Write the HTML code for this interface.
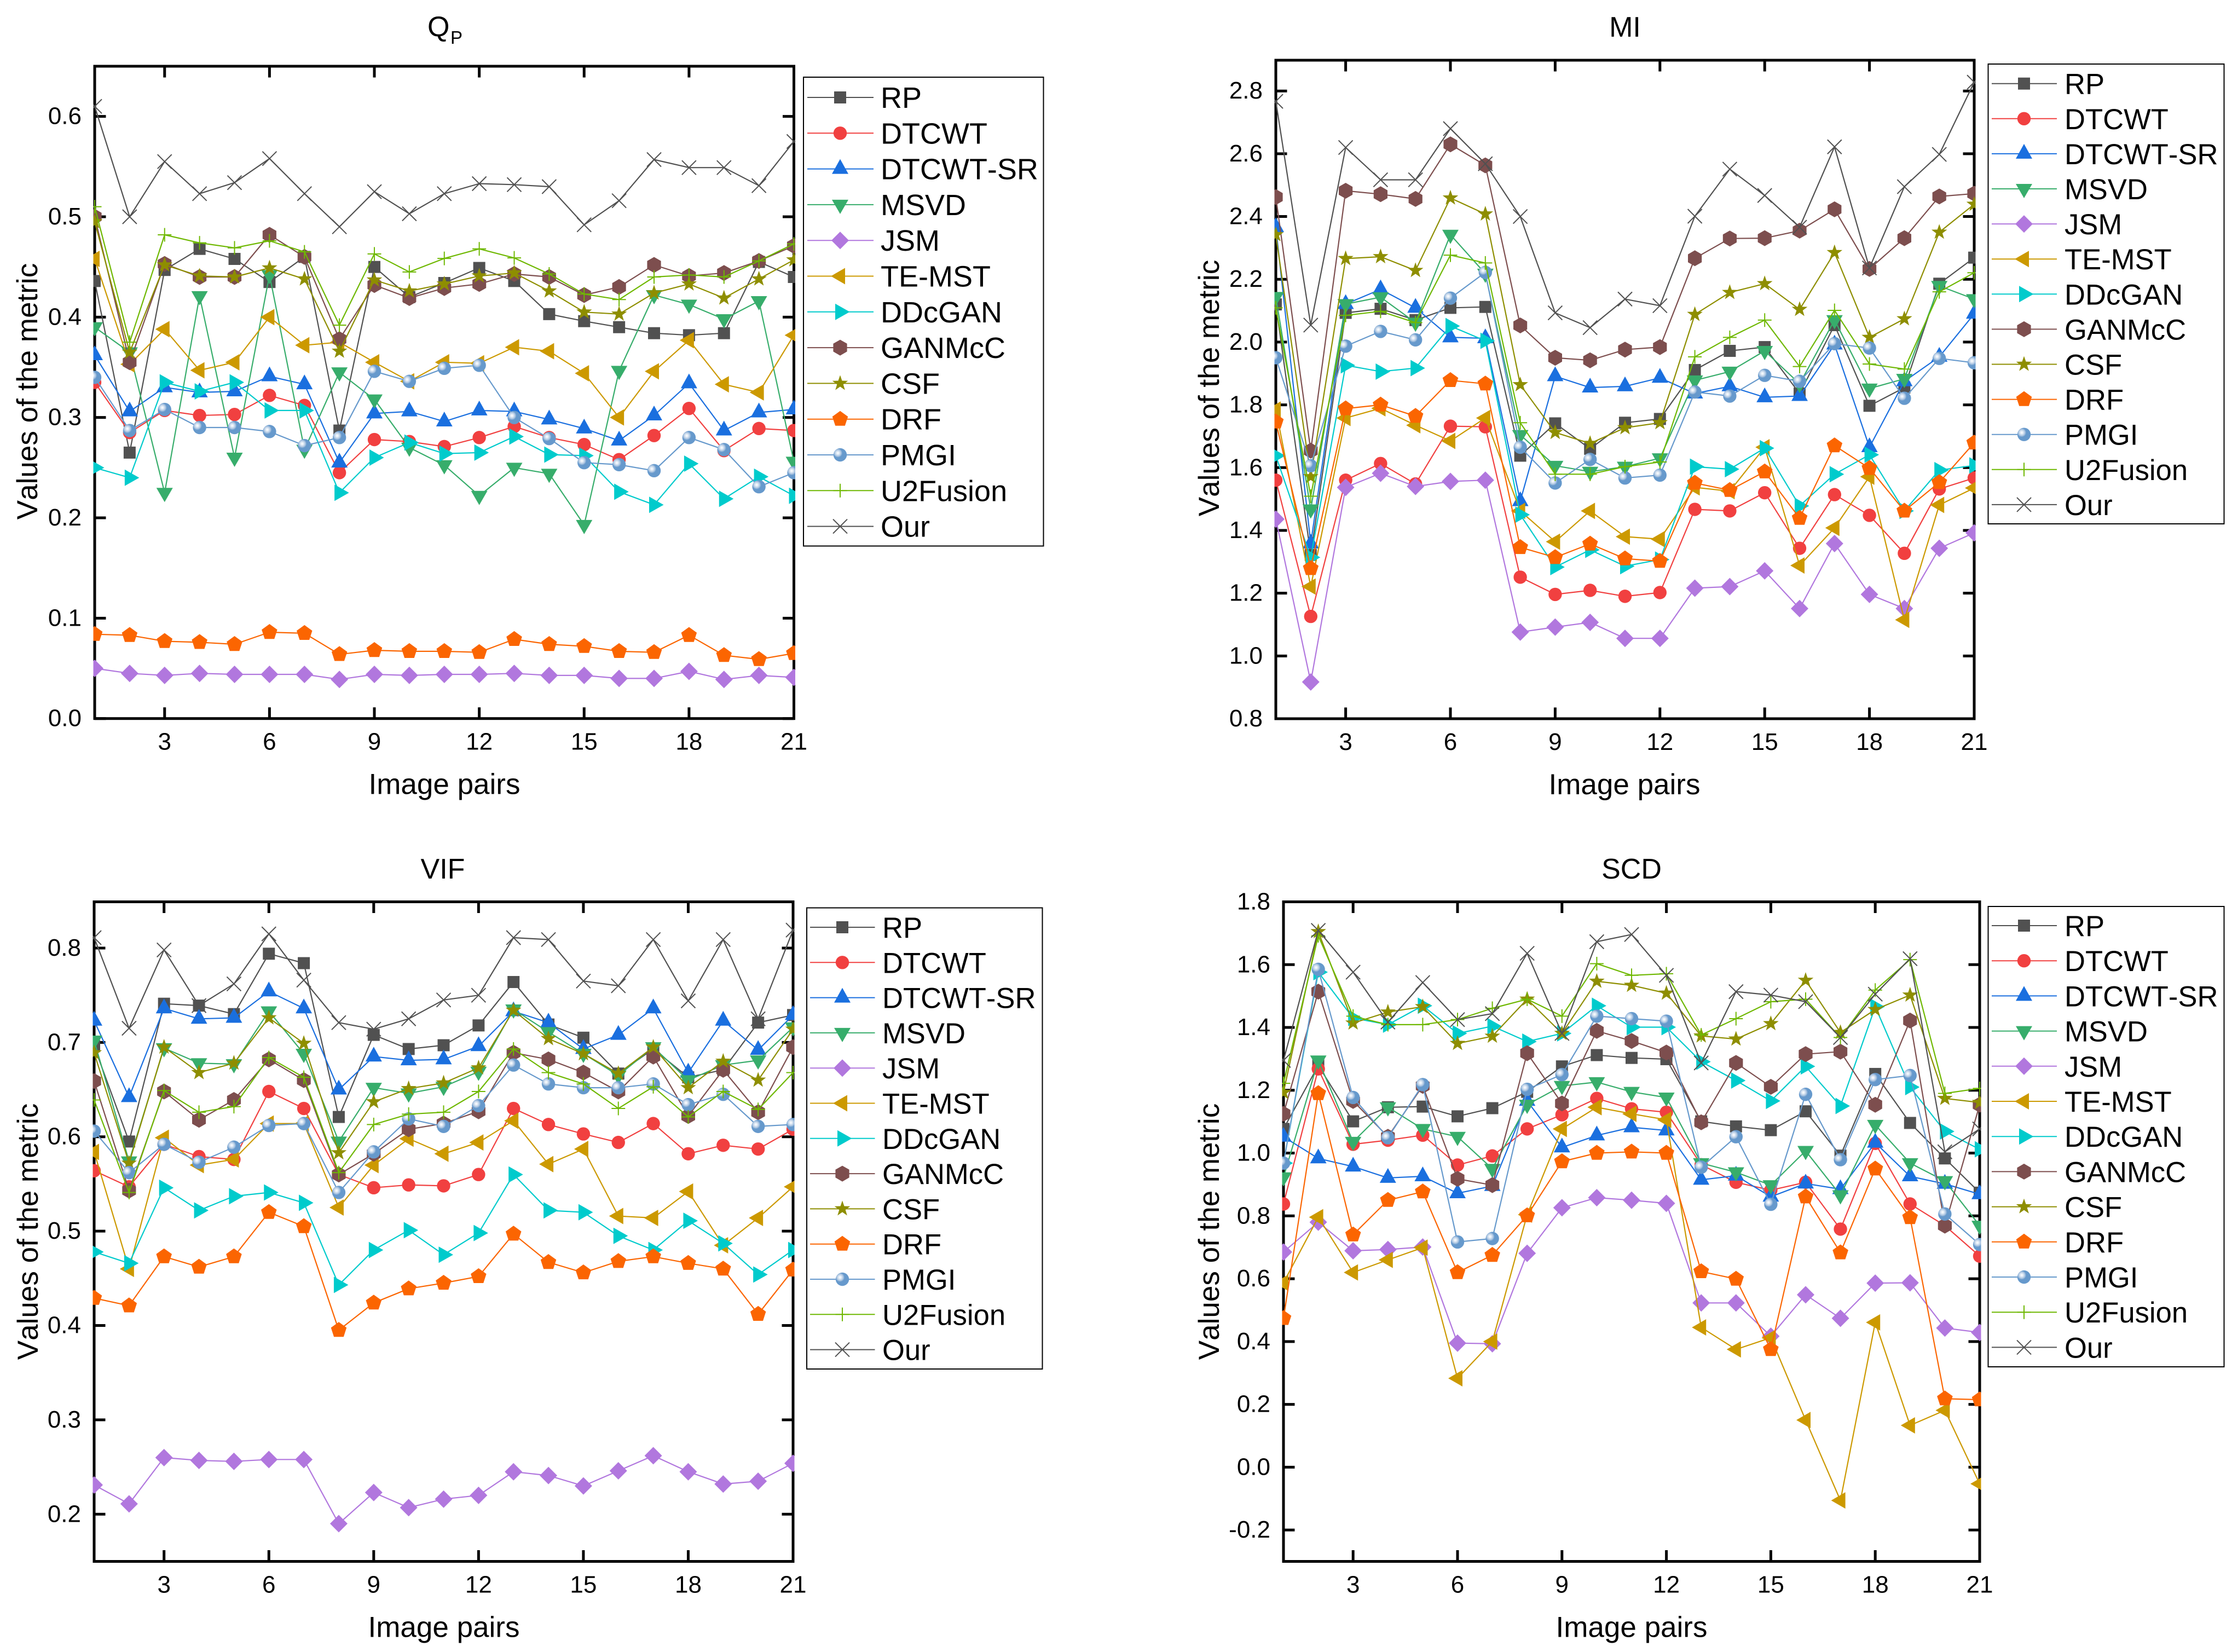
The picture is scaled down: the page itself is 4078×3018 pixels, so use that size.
<!DOCTYPE html>
<html lang="en">
<head>
<meta charset="utf-8">
<title>Metric comparison charts</title>
<style>
html,body{margin:0;padding:0;background:#fff;}
svg{display:block;}
text{font-family:"Liberation Sans",Arial,sans-serif;fill:#000;font-kerning:none;font-feature-settings:"kern" 0,"liga" 0;}
</style>
</head>
<body>
<svg id="figure" xmlns="http://www.w3.org/2000/svg" width="4078" height="3018" viewBox="0 0 4078 3018">
<defs>
<radialGradient id="sphere" cx="0.33" cy="0.36" r="0.34">
<stop offset="0" stop-color="#ffffff"/>
<stop offset="0.3" stop-color="#e3ecf6"/>
<stop offset="0.72" stop-color="#a9c3e0"/>
<stop offset="1" stop-color="#6699CC"/>
</radialGradient>
</defs>
</svg>
<script>
// Shared categories and legend
const imagePairs = [1,2,3,4,5,6,7,8,9,10,11,12,13,14,15,16,17,18,19,20,21];
const xTickLabels = [3,6,9,12,15,18,21];
const methods = ["RP","DTCWT","DTCWT-SR","MSVD","JSM","TE-MST","DDcGAN","GANMcC","CSF","DRF","PMGI","U2Fusion","Our"];
const methodColors = ["#515151","#F14040","#1A6FDF","#37AD6B","#B177DE","#CC9900","#00CBCC","#7D4E4E","#8E8E00","#FB6501","#6699CC","#6FB802","#515151"];
const methodMarkers = ["square","circle","up","down","diamond","left","right","hexagon","star","pentagon","sphere","plus","cross"];

// QP values
const qpRP = [.436,.265,.447,.468,.458,.435,.46,.287,.45,.42,.434,.449,.436,.403,.396,.39,.384,.382,.384,.455,.44];
const qpDTCWT = [.335,.285,.307,.302,.303,.322,.312,.245,.278,.276,.271,.28,.291,.28,.273,.258,.282,.309,.267,.289,.287];
const qpDTCWTSR = [.362,.306,.33,.325,.326,.341,.333,.255,.304,.306,.296,.307,.306,.298,.289,.277,.302,.334,.287,.305,.308];
const qpMSVD = [.39,.365,.225,.421,.26,.442,.268,.345,.318,.27,.2525,.222,.25,.244,.193,.3465,.422,.4125,.398,.416,.256];
const qpJSM = [.05,.045,.043,.045,.044,.044,.044,.039,.044,.043,.044,.044,.045,.043,.043,.04,.04,.047,.039,.043,.041];
const qpTEMST = [.458,.353,.388,.347,.355,.4,.372,.375,.355,.336,.355,.354,.37,.366,.344,.3,.346,.377,.333,.325,.382];
const qpDDcGAN = [.25,.24,.335,.326,.335,.307,.307,.225,.26,.275,.264,.265,.281,.263,.262,.226,.213,.254,.219,.241,.222];
const qpGANMcC = [.5,.355,.453,.44,.44,.482,.46,.378,.432,.419,.429,.433,.443,.44,.422,.43,.452,.441,.444,.456,.471];
const qpCSF = [.495,.365,.452,.441,.44,.449,.438,.366,.437,.426,.433,.441,.444,.426,.405,.403,.424,.433,.419,.438,.457];
const qpDRF = [.084,.083,.077,.076,.074,.086,.085,.064,.068,.067,.067,.066,.079,.074,.072,.067,.066,.083,.063,.059,.065];
const qpPMGI = [.34,.287,.308,.29,.29,.286,.272,.28,.346,.336,.349,.352,.3,.279,.255,.253,.247,.28,.268,.231,.245];
const qpU2Fusion = [.51,.375,.482,.474,.469,.476,.465,.392,.463,.445,.4585,.468,.459,.443,.423,.4175,.44,.442,.44,.456,.473];
const qpOur = [.61,.5,.555,.523,.534,.558,.523,.49,.525,.503,.523,.533,.532,.53,.492,.516,.557,.549,.549,.531,.575];
const qpTicks = ["0.0","0.1","0.2","0.3","0.4","0.5","0.6"];

// MI values
const miRP = [2.12,1.322,2.093,2.106,2.07,2.109,2.112,1.638,1.741,1.66,1.743,1.755,1.911,1.972,1.984,1.836,2.054,1.797,1.855,2.186,2.269];
const miDTCWT = [1.56,1.126,1.56,1.613,1.548,1.732,1.73,1.251,1.196,1.209,1.19,1.202,1.467,1.462,1.52,1.343,1.514,1.448,1.327,1.532,1.567];
const miDTCWTSR = [2.366,1.358,2.121,2.168,2.109,2.015,2.012,1.493,1.891,1.855,1.859,1.886,1.836,1.859,1.824,1.828,1.992,1.665,1.875,1.953,2.09];
const miMSVD = [2.144,1.467,2.121,2.143,2.062,2.342,2.218,1.704,1.606,1.587,1.603,1.63,1.878,1.906,1.972,1.867,2.07,1.852,1.883,2.179,2.137];
const miJSM = [1.436,.917,1.537,1.582,1.54,1.556,1.56,1.076,1.092,1.107,1.056,1.056,1.216,1.221,1.271,1.151,1.358,1.196,1.151,1.343,1.392];
const miTEMST = [1.785,1.221,1.758,1.789,1.735,1.685,1.758,1.462,1.364,1.462,1.38,1.372,1.537,1.525,1.665,1.288,1.408,1.571,1.115,1.481,1.535];
const miDDcGAN = [1.638,1.314,1.926,1.906,1.917,2.051,2.004,1.45,1.283,1.338,1.286,1.307,1.603,1.595,1.662,1.478,1.579,1.641,1.462,1.592,1.607];
const miGANMcC = [2.462,1.654,2.482,2.471,2.456,2.63,2.563,2.053,1.95,1.942,1.976,1.984,2.267,2.33,2.331,2.355,2.423,2.233,2.331,2.464,2.473];
const miCSF = [2.342,1.571,2.266,2.272,2.228,2.459,2.408,1.864,1.712,1.677,1.727,1.743,2.088,2.158,2.186,2.104,2.285,2.015,2.074,2.35,2.439];
const miDRF = [1.746,1.279,1.788,1.8,1.764,1.878,1.867,1.346,1.314,1.357,1.31,1.302,1.551,1.528,1.587,1.439,1.67,1.598,1.462,1.553,1.679];
const miPMGI = [1.95,1.606,1.987,2.034,2.007,2.14,2.222,1.665,1.551,1.626,1.567,1.576,1.841,1.828,1.894,1.875,1.995,1.981,1.821,1.948,1.934];
const miU2Fusion = [2.109,1.509,2.085,2.098,2.062,2.277,2.252,1.743,1.579,1.579,1.603,1.618,1.953,2.015,2.07,1.922,2.101,1.93,1.914,2.16,2.221];
const miOur = [2.767,2.054,2.62,2.517,2.517,2.68,2.568,2.4,2.093,2.046,2.137,2.116,2.401,2.551,2.467,2.366,2.622,2.236,2.495,2.598,2.828];
const miTicks = ["0.8","1.0","1.2","1.4","1.6","1.8","2.0","2.2","2.4","2.6","2.8"];

// VIF values
const vifRP = [.696,.595,.741,.739,.73,.794,.784,.621,.708,.693,.697,.718,.764,.719,.705,.667,.693,.663,.671,.721,.729];
const vifDTCWT = [.564,.547,.592,.579,.576,.648,.63,.56,.546,.549,.548,.56,.63,.613,.603,.594,.614,.582,.591,.587,.608];
const vifDTCWTSR = [.723,.642,.736,.725,.726,.754,.736,.65,.685,.681,.682,.696,.733,.721,.693,.708,.736,.668,.723,.692,.729];
const vifMSVD = [.702,.574,.694,.678,.677,.733,.688,.595,.652,.646,.653,.669,.735,.711,.688,.665,.695,.66,.676,.681,.716];
const vifJSM = [.231,.211,.26,.257,.256,.258,.258,.19,.223,.207,.216,.22,.245,.241,.23,.246,.262,.245,.232,.235,.254];
const vifTEMST = [.584,.46,.599,.57,.576,.614,.614,.525,.57,.598,.582,.594,.617,.571,.587,.516,.514,.542,.485,.514,.547];
const vifDDcGAN = [.478,.466,.546,.522,.537,.541,.53,.443,.48,.501,.475,.498,.56,.522,.52,.495,.48,.511,.487,.454,.48];
const vifGANMcC = [.659,.543,.648,.618,.639,.682,.66,.56,.582,.608,.614,.627,.689,.682,.668,.648,.685,.622,.671,.626,.695];
const vifCSF = [.689,.572,.695,.668,.678,.726,.699,.583,.637,.651,.657,.673,.734,.704,.688,.667,.695,.652,.68,.66,.714];
const vifDRF = [.429,.421,.473,.462,.473,.52,.505,.395,.424,.439,.445,.452,.497,.467,.456,.468,.473,.466,.46,.412,.459];
const vifPMGI = [.606,.562,.592,.573,.589,.612,.614,.541,.584,.619,.611,.633,.676,.656,.652,.652,.656,.634,.645,.611,.613];
const vifU2Fusion = [.639,.541,.649,.626,.632,.684,.663,.562,.613,.624,.626,.648,.693,.668,.656,.63,.653,.621,.648,.629,.668];
const vifOur = [.811,.715,.798,.739,.762,.815,.766,.721,.714,.725,.745,.75,.811,.809,.765,.76,.809,.744,.809,.725,.819];
const vifTicks = ["0.2","0.3","0.4","0.5","0.6","0.7","0.8"];

// SCD values
const scdRP = [1.077,1.279,1.101,1.146,1.148,1.117,1.143,1.195,1.276,1.312,1.303,1.299,1.101,1.085,1.073,1.133,.992,1.252,1.096,.983,.874];
const scdDTCWT = [.838,1.268,1.028,1.041,1.057,.962,.991,1.077,1.122,1.174,1.141,1.13,.963,.907,.882,.907,.758,1.031,.838,.769,.672];
const scdDTCWTSR = [1.052,.983,.957,.921,.926,.872,.895,1.166,1.018,1.056,1.082,1.072,.915,.928,.861,.903,.885,1.033,.926,.902,.869];
const scdMSVD = [.923,1.295,1.036,1.146,1.077,1.052,.95,1.154,1.214,1.226,1.195,1.177,.968,.939,.898,1.007,.866,1.09,.968,.911,.769];
const scdJSM = [.685,.78,.689,.693,.701,.395,.393,.681,.826,.858,.85,.84,.523,.523,.417,.549,.474,.586,.587,.443,.429];
const scdTEMST = [.587,.796,.62,.66,.699,.283,.4,.804,1.077,1.146,1.125,1.106,.445,.375,.412,.15,-.106,.461,.133,.181,-.053];
const scdDDcGAN = [.968,1.576,1.43,1.409,1.469,1.381,1.404,1.355,1.381,1.469,1.401,1.401,1.291,1.231,1.166,1.276,1.15,1.466,1.21,1.069,1.012];
const scdGANMcC = [1.125,1.514,1.166,1.052,1.214,.918,.898,1.318,1.158,1.389,1.357,1.32,1.098,1.287,1.211,1.315,1.323,1.154,1.422,.769,1.154];
const scdCSF = [1.193,1.705,1.414,1.449,1.466,1.349,1.372,1.49,1.381,1.547,1.534,1.509,1.373,1.363,1.412,1.55,1.384,1.457,1.503,1.174,1.161];
const scdDRF = [.474,1.19,.74,.85,.877,.62,.675,.801,.973,1,1.004,1,.623,.599,.375,.861,.683,.95,.795,.218,.215];
const scdPMGI = [.968,1.585,1.177,1.049,1.218,.717,.728,1.203,1.25,1.436,1.428,1.42,.955,1.052,.837,1.187,.979,1.234,1.247,.806,.709];
const scdU2Fusion = [1.222,1.692,1.436,1.409,1.409,1.425,1.461,1.49,1.436,1.603,1.566,1.571,1.376,1.428,1.482,1.49,1.368,1.519,1.616,1.19,1.206];
const scdOur = [1.295,1.709,1.576,1.417,1.543,1.425,1.444,1.636,1.381,1.673,1.696,1.566,1.287,1.514,1.503,1.482,1.368,1.506,1.619,1.004,1.077];
const scdTicks = ["-0.2","0.0","0.2","0.4","0.6","0.8","1.0","1.2","1.4","1.6","1.8"];

const panels = [
  {key:"qp", title:"Q", sub:"P", series:[qpRP,qpDTCWT,qpDTCWTSR,qpMSVD,qpJSM,qpTEMST,qpDDcGAN,qpGANMcC,qpCSF,qpDRF,qpPMGI,qpU2Fusion,qpOur], ticks:qpTicks,
   left:173, right:1450.5, top:121, bottom:1312.7, yMin:0, yMax:0.65, titleX:781, titleY:66, yTitleX:68, yTitleY:715, xTitleX:812,
   legend:{left:1468, right:1906.5, top:141, bottom:997.5, first:178, step:65.3, lineL:1475, lineR:1596, mark:1535, textX:1609, font:54}},
  {key:"mi", title:"MI", series:[miRP,miDTCWT,miDTCWTSR,miMSVD,miJSM,miTEMST,miDDcGAN,miGANMcC,miCSF,miDRF,miPMGI,miU2Fusion,miOur], ticks:miTicks,
   left:2331, right:3607, top:110, bottom:1313, yMin:0.8, yMax:2.898, titleX:2969, titleY:67, yTitleX:2227, yTitleY:709, xTitleX:2968,
   legend:{left:3632.5, right:4063.5, top:117, bottom:957, first:152.7, step:64.1, lineL:3639, lineR:3758, mark:3698, textX:3772, font:52.6}},
  {key:"vif", title:"VIF", series:[vifRP,vifDTCWT,vifDTCWTSR,vifMSVD,vifJSM,vifTEMST,vifDDcGAN,vifGANMcC,vifCSF,vifDRF,vifPMGI,vifU2Fusion,vifOur], ticks:vifTicks,
   left:172, right:1449, top:1647.5, bottom:2852.5, yMin:0.15, yMax:0.849, titleX:809, titleY:1605, yTitleX:69, yTitleY:2250, xTitleX:811,
   legend:{left:1474, right:1904.5, top:1658.5, bottom:2501, first:1694, step:64.3, lineL:1480, lineR:1598.5, mark:1539, textX:1612, font:52.6}},
  {key:"scd", title:"SCD", series:[scdRP,scdDTCWT,scdDTCWTSR,scdMSVD,scdJSM,scdTEMST,scdDDcGAN,scdGANMcC,scdCSF,scdDRF,scdPMGI,scdU2Fusion,scdOur], ticks:scdTicks,
   left:2345, right:3617, top:1647.5, bottom:2852.5, yMin:-0.3, yMax:1.8, titleX:2981, titleY:1605, yTitleX:2227, yTitleY:2250, xTitleX:2981,
   legend:{left:3632.5, right:4063.5, top:1656, bottom:2497, first:1691, step:64.2, lineL:3639, lineR:3758, mark:3698, textX:3772, font:52.6}}
];

const NS = "http://www.w3.org/2000/svg";
const figure = document.getElementById("figure");

function make(tag, attrs, parent) {
  const node = document.createElementNS(NS, tag);
  for (const k in attrs) node.setAttribute(k, attrs[k]);
  parent.appendChild(node);
  return node;
}
function polyPoints(cx, cy, radius, count, startDeg) {
  const out = [];
  for (let i = 0; i < count; i++) {
    const a = (startDeg + i * 360 / count) * Math.PI / 180;
    out.push((cx + radius * Math.cos(a)).toFixed(1) + "," + (cy + radius * Math.sin(a)).toFixed(1));
  }
  return out.join(" ");
}
function starPoints(cx, cy, outer, inner) {
  const out = [];
  for (let i = 0; i < 10; i++) {
    const r = i % 2 ? inner : outer;
    const a = (-90 + i * 36) * Math.PI / 180;
    out.push((cx + r * Math.cos(a)).toFixed(1) + "," + (cy + r * Math.sin(a)).toFixed(1));
  }
  return out.join(" ");
}
function drawMarker(kind, cx, cy, color, parent) {
  if (kind === "square") return make("rect", {x:cx-11, y:cy-11, width:22, height:22, fill:color}, parent);
  if (kind === "circle") return make("circle", {cx:cx, cy:cy, r:12.2, fill:color}, parent);
  if (kind === "sphere") return make("circle", {cx:cx, cy:cy, r:12.2, fill:"url(#sphere)"}, parent);
  if (kind === "up") return make("polygon", {points:[cx,cy-18,cx+15,cy+9,cx-15,cy+9].join(" "), fill:color}, parent);
  if (kind === "down") return make("polygon", {points:[cx,cy+17,cx+15,cy-9,cx-15,cy-9].join(" "), fill:color}, parent);
  if (kind === "left") return make("polygon", {points:[cx-17,cy,cx+9,cy-15,cx+9,cy+15].join(" "), fill:color}, parent);
  if (kind === "right") return make("polygon", {points:[cx+17.5,cy,cx-9,cy-15,cx-9,cy+15].join(" "), fill:color}, parent);
  if (kind === "diamond") return make("polygon", {points:[cx,cy-16,cx+16,cy,cx,cy+16,cx-16,cy].join(" "), fill:color}, parent);
  if (kind === "hexagon") return make("polygon", {points:polyPoints(cx, cy, 14.5, 6, -90), fill:color}, parent);
  if (kind === "pentagon") return make("polygon", {points:polyPoints(cx, cy, 15, 5, -90), fill:color}, parent);
  if (kind === "star") return make("polygon", {points:starPoints(cx, cy, 15, 6), fill:color}, parent);
  if (kind === "plus") return make("path", {d:"M"+(cx-12.5)+" "+cy+"H"+(cx+12.5)+"M"+cx+" "+(cy-12.5)+"V"+(cy+12.5), stroke:color, "stroke-width":2, fill:"none"}, parent);
  return make("path", {d:"M"+(cx-13)+" "+(cy-13)+"L"+(cx+13)+" "+(cy+13)+"M"+(cx-13)+" "+(cy+13)+"L"+(cx+13)+" "+(cy-13), stroke:color, "stroke-width":2, fill:"none"}, parent);
}

panels.forEach(function (p) {
  const xScale = function (v) { return p.left + (v - 1) * (p.right - p.left) / 20; };
  const yScale = function (v) { return p.bottom - (v - p.yMin) * (p.bottom - p.top) / (p.yMax - p.yMin); };

  const panel = make("g", {}, figure);
  
  

  const clip = make("clipPath", {id:"clip-" + p.key}, panel);
  make("rect", {x:p.left - 2.5, y:p.top - 2.5, width:p.right - p.left + 5, height:p.bottom - p.top + 5}, clip);

  // frame sits under the series; markers paint over the spines
  const frame = make("rect", {x:p.left, y:p.top, width:p.right - p.left, height:p.bottom - p.top, fill:"none", stroke:"#000", "stroke-width":5}, panel);
  
  

  // x ticks
  const xAxis = make("g", {}, panel);
  
  
  xTickLabels.forEach(function (t) {
    const x = xScale(t);
    const tick = make("path", {d:"M"+x+" "+p.bottom+"v-20.5M"+x+" "+p.top+"v20.5", stroke:"#000", "stroke-width":5}, xAxis);
    
    
    const label = make("text", {x:x, y:p.bottom + 57, "font-size":44, "text-anchor":"middle"}, xAxis);
    label.textContent = String(t);
    
    
  });
  const xTitle = make("text", {x:p.xTitleX, y:p.bottom + 138, "font-size":53, "text-anchor":"middle"}, panel);
  xTitle.textContent = "Image pairs";
  
  

  // y ticks
  const yAxis = make("g", {}, panel);
  
  
  p.ticks.forEach(function (t) {
    const y = yScale(parseFloat(t));
    const tick = make("path", {d:"M"+p.left+" "+y+"h20.5M"+p.right+" "+y+"h-20.5", stroke:"#000", "stroke-width":5}, yAxis);
    
    
    const label = make("text", {x:p.left - 24, y:y + 14, "font-size":44, "text-anchor":"end"}, yAxis);
    label.textContent = t;
    
    
  });
  const yTitle = make("text", {x:0, y:0, "font-size":53, "text-anchor":"middle", transform:"translate(" + p.yTitleX + " " + p.yTitleY + ") rotate(-90)"}, panel);
  yTitle.textContent = "Values of the metric";
  
  

  // series
  const plot = make("g", {"clip-path":"url(#clip-" + p.key + ")"}, panel);
  
  

  p.series.forEach(function (values, s) {
    const group = make("g", {}, plot);
    
    
    const pts = values.map(function (v, i) { return xScale(imagePairs[i]).toFixed(1) + "," + yScale(v).toFixed(1); }).join(" ");
    const line = make("polyline", {points:pts, fill:"none", stroke:methodColors[s], "stroke-width":2.2, "stroke-linejoin":"round"}, group);
    
    
    values.forEach(function (v, i) {
      const mark = drawMarker(methodMarkers[s], xScale(imagePairs[i]), yScale(v), methodColors[s], group);
      
      
    });
  });

  // title
  if (p.sub) {
    const title = make("text", {x:p.titleX, y:p.titleY, "font-size":52}, panel);
    title.textContent = p.title;
    
    
    const sub = make("text", {x:p.titleX + 42, y:p.titleY + 14, "font-size":33}, panel);
    sub.textContent = p.sub;
    
    
  } else {
    const title = make("text", {x:p.titleX, y:p.titleY, "font-size":52, "text-anchor":"middle"}, panel);
    title.textContent = p.title;
    
    
  }

  // legend
  const lg = p.legend;
  const legend = make("g", {}, panel);
  
  
  const box = make("rect", {x:lg.left, y:lg.top, width:lg.right - lg.left, height:lg.bottom - lg.top, fill:"#fff", stroke:"#000", "stroke-width":2}, legend);
  
  
  methods.forEach(function (name, s) {
    const y = lg.first + s * lg.step;
    const entry = make("g", {}, legend);
    
    
    make("line", {x1:lg.lineL, x2:lg.lineR, y1:y, y2:y, stroke:methodColors[s], "stroke-width":2}, entry);
    drawMarker(methodMarkers[s], lg.mark, y, methodColors[s], entry);
    const text = make("text", {x:lg.textX, y:y + 19, "font-size":lg.font}, entry);
    text.textContent = name;
  });
});
</script>
</body>
</html>
